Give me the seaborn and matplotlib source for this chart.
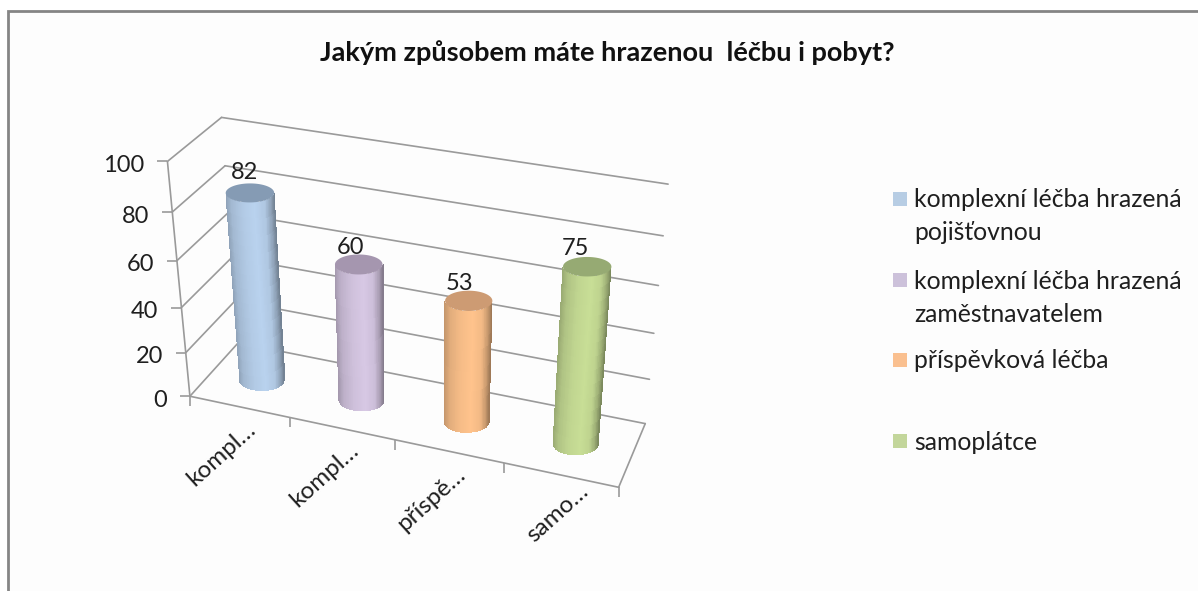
import numpy as np
import pandas as pd
import seaborn as sns
import matplotlib.pyplot as plt
from matplotlib.colors import to_rgb
from matplotlib.patches import Rectangle
from matplotlib.transforms import Transform

title = 'Jakým způsobem máte hrazenou  léčbu i pobyt?'
categories = ['komplexní léčba hrazená\npojišťovnou', 'komplexní léčba hrazená\nzaměstnavatelem',
              'příspěvková léčba', 'samoplátce']
short_labels = ['kompl…', 'kompl…', 'příspě…', 'samo…']
values = [82, 60, 53, 75]
y_ticks = [0, 20, 40, 60, 80, 100]

light = ['#b9d2ee', '#d7c8e4', '#ffc38c', '#c8de96']
cap = ['#859bb4', '#a596af', '#cd9b73', '#96aa73']
legend_col = ['#b7cde4', '#ccc1da', '#fac090', '#c3d69b']

# box corners on screen: (category, value, depth) -> pixel
corners_3d = [(-.5, 0, 0), (3.5, 0, 0), (-.5, 100, 0), (-.5, 0, 1), (3.5, 0, 1), (-.5, 100, 1), (3.5, 100, 1)]
corners_px = [(190, 396), (619, 487), (167, 162), (238, 343), (645, 424), (222, 117), (668, 184)]

rows, rhs = [], []
for (x, v, d), (px, py) in zip(corners_3d, corners_px):
    rows.append([x, v, d, 1, 0, 0, 0, 0, -px * x, -px * v, -px * d])
    rows.append([0, 0, 0, 0, x, v, d, 1, -py * x, -py * v, -py * d])
    rhs += [px, py]
sol = np.linalg.lstsq(np.array(rows, float), np.array(rhs, float), rcond=None)[0]
camera = np.append(sol, 1).reshape(3, 4)


def project(x, v, d):
    h = camera @ np.vstack([x, v, d, np.ones_like(x)])
    return h[0] / h[2], h[1] / h[2]


class BoxPlane(Transform):
    input_dims = 2
    output_dims = 2

    def __init__(self, to3d):
        super().__init__()
        self.to3d = to3d

    def transform_non_affine(self, values):
        a, b = np.asarray(values, float).T
        x, v, d = self.to3d(a, b)
        return np.column_stack(project(x, v, d))


def cylinder_plane(cx, depth=.48, rx=22.5, ry=11):
    # angle on the cylinder -> box coords, so the cross section looks level on screen
    c = np.array([float(cx)])
    p0 = np.array(project(c, c * 0, c * 0 + depth)).ravel()
    jx = np.array(project(c + .01, c * 0, c * 0 + depth)).ravel() - p0
    jd = np.array(project(c, c * 0, c * 0 + depth + .01)).ravel() - p0
    jac = np.column_stack([jx, jd]) / .01
    e1 = np.linalg.solve(jac, [rx, 0])
    e2 = np.linalg.solve(jac, [0, -ry])

    def to3d(theta, v):
        return (cx + e1[0] * np.cos(theta) + e2[0] * np.sin(theta), v,
                depth + e1[1] * np.cos(theta) + e2[1] * np.sin(theta))
    return BoxPlane(to3d)


sns.set_theme(style='white')
plt.rcParams['font.family'] = ['Lato', 'Open Sans', 'DejaVu Sans']
text_col = '#1f1f1f'
grid_col = '#9a9a9a'

fig = plt.figure(figsize=(11.98, 5.91), dpi=100, facecolor='white')
ax = fig.add_axes([0, 0, 1, 1])

df = pd.DataFrame({'category': short_labels, 'value': values, 'slot': range(4)})
sns.barplot(data=df, x='slot', y='value', ax=ax, native_scale=True)
bars = [(b.get_x() + b.get_width() / 2, b.get_height()) for b in ax.patches]
for b in list(ax.patches):
    b.remove()

ax.set_xlim(0, 1198)
ax.set_ylim(591, 0)
ax.axis('off')
ax.add_patch(Rectangle((7.5, 10.5), 1195, 590, fc='#fdfdfd', ec='#858585', lw=2, zorder=0))
ax.text(607, 53, title, ha='center', va='center', fontsize=19.5, fontweight='bold', color='#111111')

back_wall = BoxPlane(lambda x, v: (x, v, np.ones_like(x)))
left_wall = BoxPlane(lambda d, v: (np.full_like(d, -.5), v, d))
front = BoxPlane(lambda x, v: (x, v, np.zeros_like(x)))
floor = BoxPlane(lambda x, d: (x, np.zeros_like(x), d))
line = dict(color=grid_col, lw=1.2, zorder=1, solid_capstyle='round')

for t in y_ticks:
    ax.plot([-.5, 3.5], [t, t], transform=back_wall + ax.transData, **line)
    ax.plot([0, 1], [t, t], transform=left_wall + ax.transData, **line)
ax.plot([0, 0], [0, 100], transform=left_wall + ax.transData, **line)
ax.plot([-.5, 3.5], [0, 0], transform=front + ax.transData, **line)
ax.plot([3.5, 3.5], [0, 1], transform=floor + ax.transData, **line)

ax.plot([-.5] * 6, y_ticks, ls='none', marker=0, ms=7, mew=1.2, color=grid_col, transform=front + ax.transData)
ax.plot(np.arange(5) - .5, [0] * 5, ls='none', marker=3, ms=7, mew=1.2, color=grid_col, transform=front + ax.transData)

y_label_off = (-16.5, -3)
for t in y_ticks:
    ax.annotate(str(t), xy=(-.5, t), xycoords=front + ax.transData, xytext=y_label_off, textcoords='offset points',
                ha='right', va='center', fontsize=17, color=text_col)

# shading across the cylinder, left edge to right edge
shade_u = [-1, -.75, -.3, .2, .6, .85, 1]
shade_k = [.76, .88, .96, 1, .95, .78, .62]
theta_edges = np.linspace(np.pi, 2 * np.pi, 80)
theta_mid = (theta_edges[:-1] + theta_edges[1:]) / 2
shade = np.interp(np.cos(theta_mid), shade_u, shade_k)

label_off = [(-5, 20), (-8, 17), (-9, 17), (-12, 18)]
cat_label_off = [(6, -12), (7, -11), (7, -12), (18, -5)]
for i, (cx, val) in enumerate(bars):
    plane = cylinder_plane(cx) + ax.transData
    base = np.array(to_rgb(light[i]))
    rgb = np.clip(shade[:, None] * base, 0, 1)[None, :, :]
    ax.pcolormesh(theta_edges, [0, val], rgb, shading='flat', transform=plane, zorder=3, antialiased=False)
    around = np.linspace(0, 2 * np.pi, 90)
    ax.fill(around, np.full_like(around, val), color=cap[i], lw=0, transform=plane, zorder=4)
    dx, dy = label_off[i]
    ax.annotate(f'{val:.0f}', xy=(0, val), xycoords=cylinder_plane(cx, rx=0.01, ry=0.01) + ax.transData,
                xytext=(dx * .72, dy * .72), textcoords='offset points', ha='center', va='center',
                fontsize=17, color=text_col, zorder=5)
    dx, dy = cat_label_off[i]
    ax.annotate(short_labels[i], xy=(cx, 0), xycoords=front + ax.transData, xytext=(dx * .72, dy * .72),
                textcoords='offset points', ha='right', va='top', rotation=42, rotation_mode='anchor',
                fontsize=17.5, color=text_col)

legend_y = [199, 280, 360, 441]
legend_text_y = [216, 298, 361, 443]
for i, label in enumerate(categories):
    ax.add_patch(Rectangle((893, legend_y[i] - 7), 14, 14, fc=legend_col[i], ec='none', zorder=2))
    ax.text(914, legend_text_y[i], label, ha='left', va='center', fontsize=17.8, color=text_col, linespacing=1.5)

fig.savefig('out.png', dpi=100)
